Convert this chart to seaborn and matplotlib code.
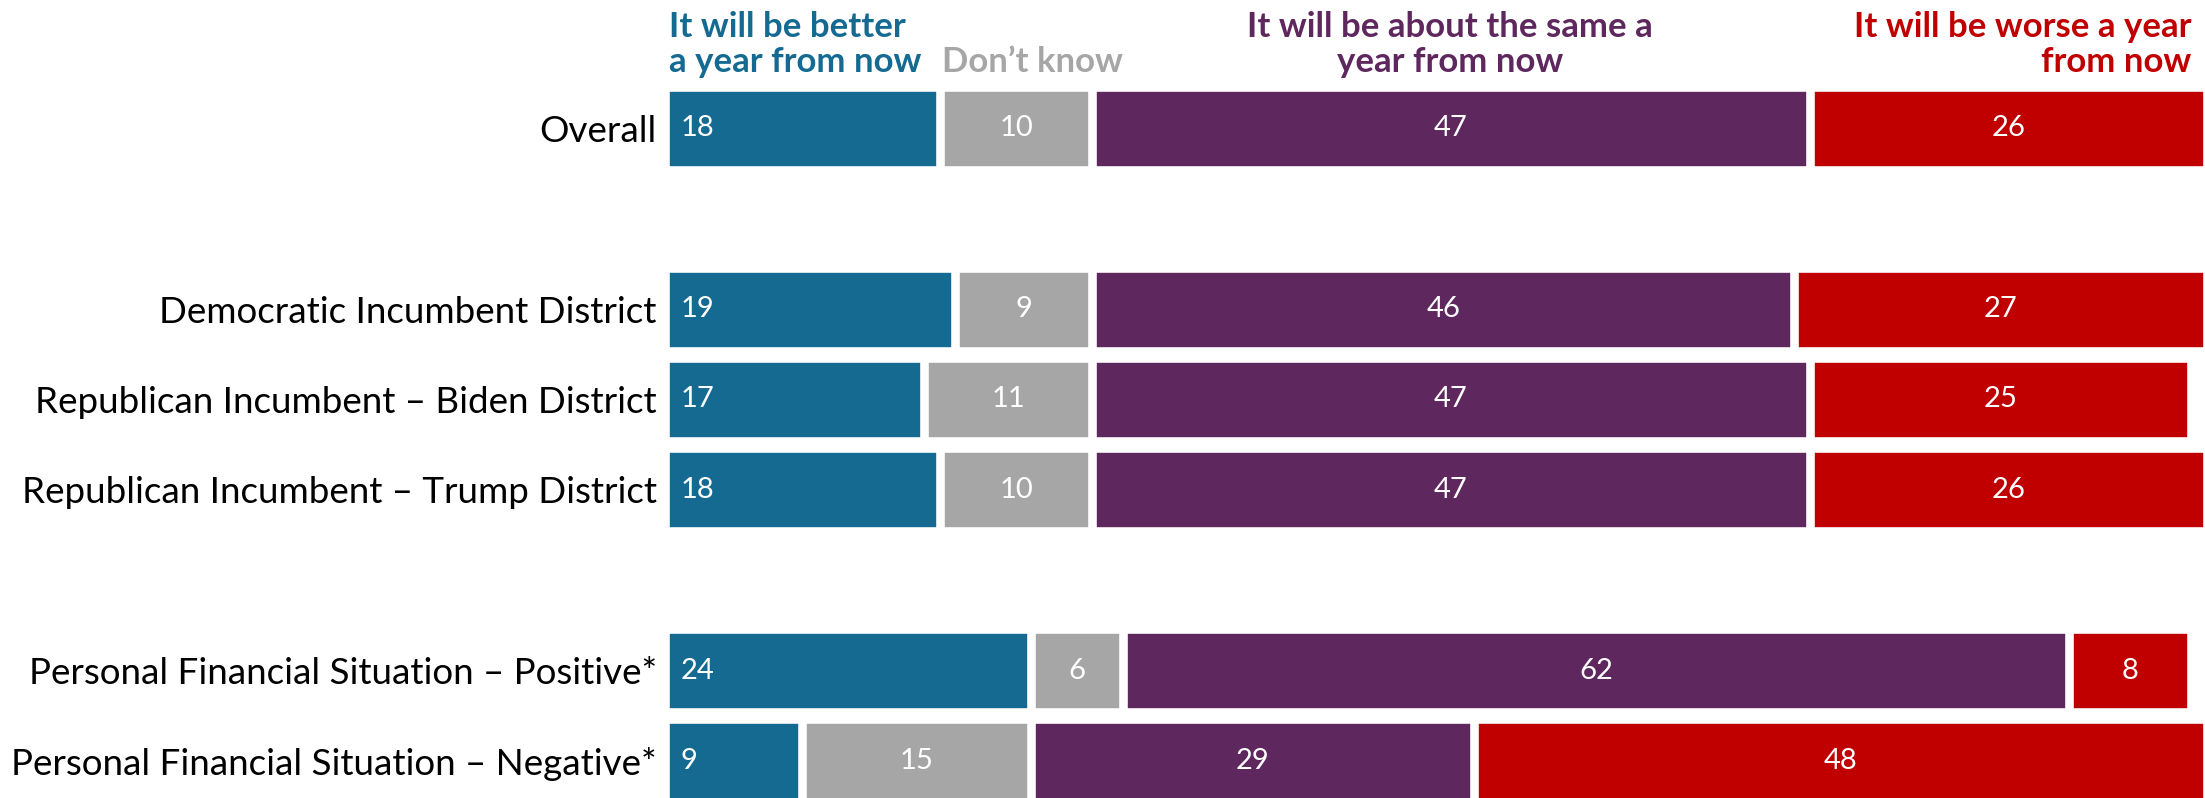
import pandas as pd
import seaborn as sns
import matplotlib.pyplot as plt

groups = ['Overall', 'Democratic Incumbent District', 'Republican Incumbent – Biden District',
          'Republican Incumbent – Trump District', 'Personal Financial Situation – Positive*',
          'Personal Financial Situation – Negative*']
better = [18, 19, 17, 18, 24, 9]
dont_know = [10, 9, 11, 10, 6, 15]
same = [47, 46, 47, 47, 62, 29]
worse = [26, 27, 25, 26, 8, 48]

series_names = ['It will be better\na year from now', 'Don’t know',
                'It will be about the same a\nyear from now', 'It will be worse a year\nfrom now']
colors = ['#156A92', '#A6A6A6', '#5E285E', '#C00000']

# blank slots separate the three blocks of rows
order = ['Overall', ' ', groups[1], groups[2], groups[3], '  ', groups[4], groups[5]]

df = pd.DataFrame({'group': groups, 'better': better, 'dk': dont_know, 'same': same, 'worse': worse})
df['c1'] = df['better']
df['c2'] = df['c1'] + df['dk']
df['c3'] = df['c2'] + df['same']
df['c4'] = df['c3'] + df['worse']

sns.set_style('white')
plt.rcParams['font.family'] = ['Lato', 'DejaVu Sans']

fig = plt.figure(figsize=(22.05, 7.98), dpi=100)
ax = fig.add_axes([665 / 2205, 0, 1 - 665 / 2205, 1])

# draw cumulative totals from widest to narrowest so they stack
for col, color in zip(['c4', 'c3', 'c2', 'c1'], colors[::-1]):
    sns.barplot(data=df, x=col, y='group', order=order, color=color, width=0.92, saturation=1,
                edgecolor='white', linewidth=6.2, errorbar=None, ax=ax)

ax.set_xlim(0, 100.9)
ax.set_ylim(7.41, -1.42)
ax.set_xlabel('')
ax.set_ylabel('')
ax.set_xticks([])
ax.set_yticks(range(len(order)))
ax.set_yticklabels([o.strip() for o in order], fontsize=26.5, color='black')
ax.tick_params(axis='y', length=0, pad=6)
sns.despine(ax=ax, left=True, bottom=True)

# value labels
for _, r in df.iterrows():
    y = order.index(r['group'])
    ax.text(1.0, y, str(r['better']), color='white', fontsize=21, ha='left', va='center')
    ax.text(r['c1'] + r['dk'] / 2, y, str(r['dk']), color='white', fontsize=21, ha='center', va='center')
    ax.text(r['c2'] + r['same'] / 2, y, str(r['same']), color='white', fontsize=21, ha='center', va='center')
    ax.text(r['c3'] + r['worse'] / 2, y, str(r['worse']), color='white', fontsize=21, ha='center', va='center')

# column headers
base = 1 - 72 / 798
hdr = dict(fontsize=25, fontweight='bold', va='baseline', linespacing=1.12)
fig.text(669 / 2205, base, series_names[0], color=colors[0], ha='left', **hdr)
fig.text(942 / 2205, base, series_names[1], color=colors[1], ha='left', **hdr)
fig.text(1450 / 2205, base, series_names[2], color=colors[2], ha='center',
         multialignment='center', **hdr)
fig.text(2191 / 2205, base, series_names[3], color=colors[3], ha='right',
         multialignment='right', **hdr)

fig.savefig('out.png', dpi=100)
